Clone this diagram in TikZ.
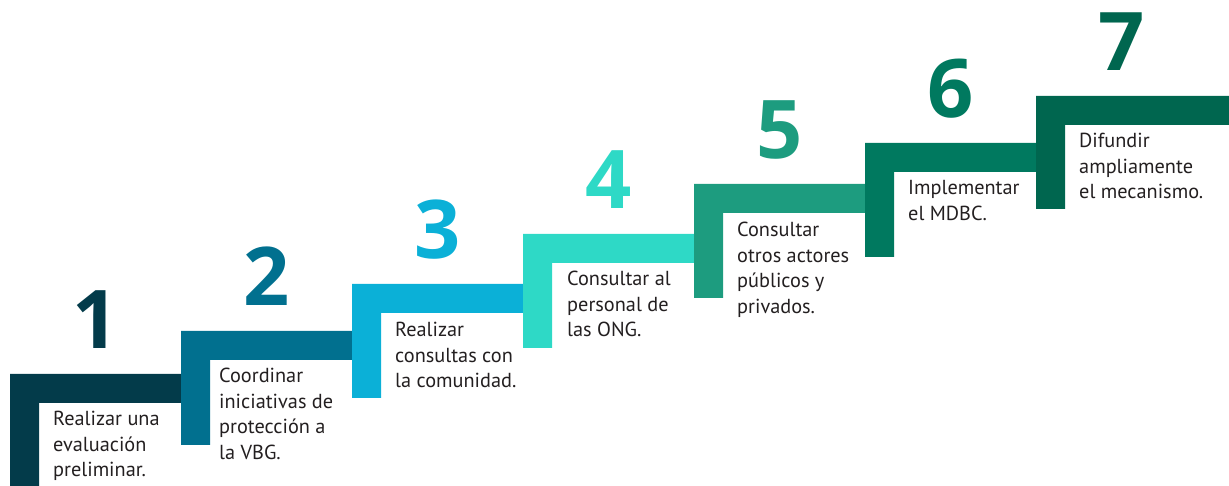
\documentclass[tikz,border=0pt]{standalone}
\usepackage{fontspec}
\setmainfont{PT Sans}
\newfontfamily\numfont{Open Sans}
\definecolor{c1}{HTML}{033B4A}
\definecolor{c2}{HTML}{01708F}
\definecolor{c3}{HTML}{0BB0D7}
\definecolor{c4}{HTML}{2ED9C6}
\definecolor{c5}{HTML}{1D9C7F}
\definecolor{c6}{HTML}{00795F}
\definecolor{c7}{HTML}{00664F}
\definecolor{txt}{HTML}{231F20}
\newcommand{\stair}[6]{% left, top, bottom, right, thickness, colour
  \fill[#6] (#1,#2) -- (#4,#2) -- (#4,#2-#5) -- (#1+#5,#2-#5) -- (#1+#5,#3) -- (#1,#3) -- cycle;}
\begin{document}
\begin{tikzpicture}[x=1pt,y=1pt,
  numlabel/.style={anchor=base, inner sep=0pt, font=\numfont\bfseries\fontsize{81}{81}\selectfont},
  steptext/.style={anchor=base west, inner sep=0pt, text=txt, font=\fontsize{20.3}{25.5}\selectfont}]
\useasboundingbox (0,0) rectangle (1229,486);
% stairs
\stair{10}{112}{0}{181}{29}{c1}
\stair{181}{155}{41}{352}{29}{c2}
\stair{352}{202}{88}{523}{29}{c3}
\stair{523}{252}{138}{694}{29}{c4}
\stair{694}{302}{188}{865}{29}{c5}
\stair{865}{343}{229}{1036}{29}{c6}
\stair{1036}{390}{277}{1229}{29}{c7}
% numbers
\node[numlabel, text=c1] (n1) at (95.5,137) {1};
\node[numlabel, text=c2] (n2) at (266.5,180) {2};
\node[numlabel, text=c3] (n3) at (437.5,227) {3};
\node[numlabel, text=c4] (n4) at (608.5,277) {4};
\node[numlabel, text=c5] (n5) at (779.5,327) {5};
\node[numlabel, text=c6] (n6) at (950.5,368) {6};
\node[numlabel, text=c7] (n7) at (1121.5,415) {7};
% texts
\node[steptext] (t1) at (53,60) {\begin{tabular}[t]{@{}l@{}}Realizar una\\evaluación\\preliminar.\end{tabular}};
\node[steptext] (t2) at (219,103) {\begin{tabular}[t]{@{}l@{}}Coordinar\\iniciativas de\\protección a\\la VBG.\end{tabular}};
\node[steptext] (t3) at (395,149) {\begin{tabular}[t]{@{}l@{}}Realizar\\consultas con\\la comunidad.\end{tabular}};
\node[steptext] (t4) at (567,200) {\begin{tabular}[t]{@{}l@{}}Consultar al\\personal de\\las ONG.\end{tabular}};
\node[steptext] (t5) at (737,249) {\begin{tabular}[t]{@{}l@{}}Consultar\\otros actores\\públicos y\\privados.\end{tabular}};
\node[steptext] (t6) at (908,291) {\begin{tabular}[t]{@{}l@{}}Implementar\\el MDBC.\end{tabular}};
\node[steptext] (t7) at (1079,338) {\begin{tabular}[t]{@{}l@{}}Difundir\\ampliamente\\el mecanismo.\end{tabular}};
\end{tikzpicture}
\end{document}
